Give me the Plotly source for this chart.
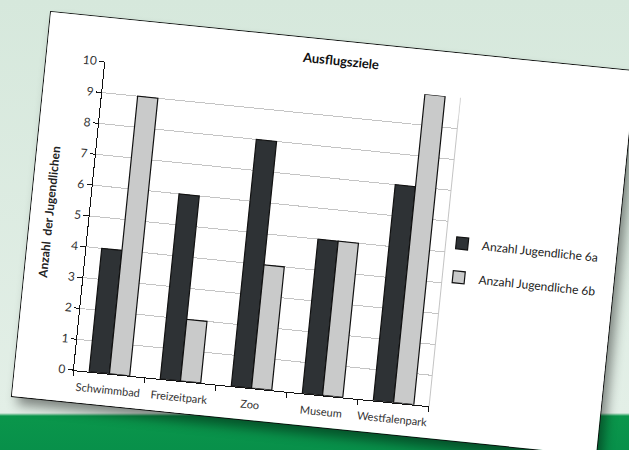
import plotly.graph_objects as go

# Ausflugsziele der Klassen 6a und 6b
categories = ["Schwimmbad", "Freizeitpark", "Zoo", "Museum", "Westfalenpark"]
series_names = ["Anzahl Jugendliche 6a", "Anzahl Jugendliche 6b"]
klasse_6a = [4, 6, 8, 5, 7]
klasse_6b = [9, 2, 4, 5, 10]
y_ticks = list(range(0, 11))

FONT = "Lato"
SHEET_W, SHEET_H = 587, 386

fig = go.Figure()
for name, values, fill, group in [
    (series_names[0], klasse_6a, "#2e3235", "a"),
    (series_names[1], klasse_6b, "#c9caca", "b"),
]:
    fig.add_trace(go.Bar(
        x=categories, y=values, name=name, legendgroup=group,
        marker=dict(color=fill, line=dict(color="#111111", width=1.2)),
    ))

fig.update_layout(
    width=SHEET_W, height=SHEET_H,
    margin=dict(l=59, r=164, t=44, b=32),
    paper_bgcolor="white", plot_bgcolor="white",
    barmode="group", bargap=0.43, bargroupgap=0,
    font=dict(family=FONT, color="#333333"),
    title=dict(text="<b>Ausflugsziele</b>", x=0.5, xref="container",
               y=1 - 19.5 / SHEET_H, yref="container", yanchor="middle",
               xanchor="center", font=dict(size=13, color="#111111", family=FONT)),
    showlegend=True,
    legend=dict(x=0.99, xanchor="left", y=0.58, yanchor="top",
                font=dict(size=12, color="#222222"), tracegroupgap=15,
                bgcolor="rgba(0,0,0,0)", borderwidth=0),
    xaxis=dict(type="category", showline=True, linecolor="#111111", linewidth=1.2,
               ticks="outside", tickson="boundaries", ticklen=5, tickcolor="#111111",
               tickangle=0, automargin=False, ticklabelstandoff=6,
               showgrid=False, tickfont=dict(size=11, color="#333333")),
    yaxis=dict(range=[0, 10], tickvals=y_ticks, showline=True, linecolor="#111111",
               linewidth=1.2, ticks="outside", ticklen=5, tickcolor="#111111",
               gridcolor="#c4c4c4", gridwidth=1, zeroline=False,
               tickfont=dict(size=12, color="#333333"),
               title=dict(text="<b>Anzahl\u00a0 der Jugendlichen</b>", standoff=10,
                          font=dict(size=12, color="#222222", family=FONT))),
    shapes=[
        # light frame on the right side of the plot area
        dict(type="line", xref="paper", yref="paper", x0=1, x1=1, y0=0, y1=1,
             line=dict(color="#c4c4c4", width=1), layer="below"),
        # pale title box that softens the top gridline
        dict(type="rect", xref="paper", yref="paper", x0=0.217, x1=1.0, y0=0.93, y1=1.13,
             fillcolor="white", opacity=0.6, line=dict(width=0), layer="between"),
    ],
)

# place the chart like a tilted sheet of paper on a green page
post = """
var gd = document.getElementById('{plot_id}');
var html = document.documentElement, body = document.body;
html.style.height = '450px'; html.style.overflow = 'hidden';
body.style.margin = '0'; body.style.height = '450px'; body.style.overflow = 'hidden';
body.style.background = 'linear-gradient(180deg, #d6e8dc 0px, #e3efe7 413px, #0a964b 416px, #08904a 450px)';
gd.style.position = 'absolute';
gd.style.left = '51px'; gd.style.top = '12px';
gd.style.transformOrigin = '0 0';
gd.style.transform = 'rotate(5.8deg)';
gd.style.outline = '1.5px solid #111111';
gd.style.boxShadow = '6px 8px 12px rgba(0,0,0,0.45)';
"""

fig.write_html("out.html", post_script=post, config={"displayModeBar": False})
